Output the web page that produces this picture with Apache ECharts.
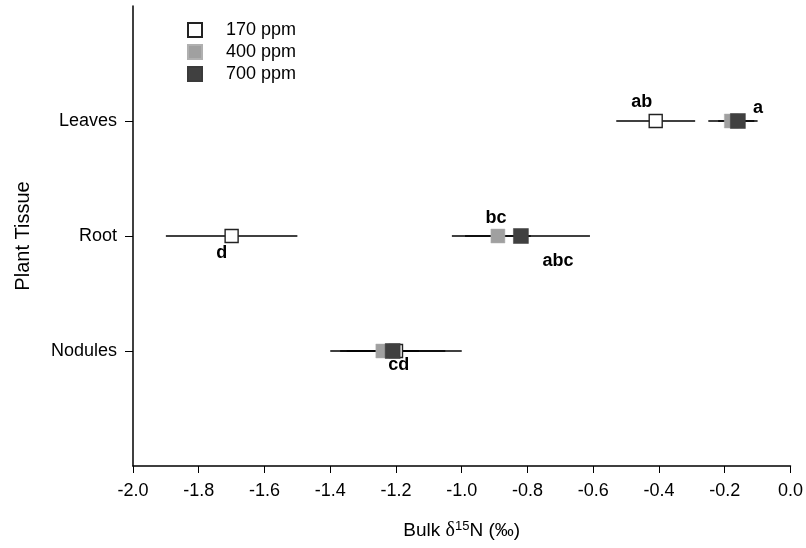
<!DOCTYPE html>
<html lang="en">
<head>
  <meta charset="UTF-8">
  <title>Bulk d15N by plant tissue</title>
  <script src="https://cdn.jsdelivr.net/npm/echarts@6.0.0/dist/echarts.min.js"></script>
  <style>body { margin: 0; background: #fff; }</style>
</head>
<body>
  <div id="main" style="width: 806px;height:548px;"></div>
  <script type="text/javascript">
    // tissues sit at y = 1, 2, 3 on a 0..4 value axis
    const tissues = ['Nodules', 'Root', 'Leaves'];
    const tissuePos = [1, 2, 3];

    // means and +/- errors per CO2 level (order: Nodules, Root, Leaves)
    const mean170 = [-1.20, -1.70, -0.41];
    const err170 = [0.20, 0.20, 0.12];
    const mean400 = [-1.24, -0.89, -0.18];
    const err400 = [0.11, 0.10, 0.07];
    const mean700 = [-1.21, -0.82, -0.16];
    const err700 = [0.16, 0.21, 0.06];

    // significance letters
    const letters170 = ['', 'd', 'ab'];
    const letters400 = ['', 'bc', ''];
    const letters700 = ['cd', 'abc', 'a'];

    const xTicks = ['-2.0', '-1.8', '-1.6', '-1.4', '-1.2', '-1.0', '-0.8', '-0.6', '-0.4', '-0.2', '0.0'];

    // label offsets (px) relative to point centre
    const offsets170 = [[0, 0], [-10, 17], [-14, -19]];
    const offsets400 = [[0, 0], [-2, -18], [0, 0]];
    const offsets700 = [[6, 14], [37, 25], [20, -13]];

    const font = 'Liberation Sans, Arial';

    let myChart = echarts.init(document.getElementById('main'));

    function points(means, letters, offs) {
      return means.map((m, i) => ({
        value: [m, tissuePos[i]],
        label: {
          show: letters[i] !== '',
          position: 'inside',
          offset: offs[i],
          formatter: letters[i],
          color: '#000',
          fontWeight: 'bold',
          fontSize: 18,
          fontFamily: font
        }
      }));
    }

    // error bar data: [low, high, y]
    const errData = [];
    [[mean170, err170], [mean400, err400], [mean700, err700]].forEach(([m, e]) => {
      m.forEach((v, i) => errData.push([v - e[i], v + e[i], tissuePos[i]]));
    });

    const options = {
      animation: false,
      textStyle: { fontFamily: font },
      grid: { left: 133, right: 13, top: 6, bottom: 82 },
      legend: {
        orient: 'vertical',
        left: 182,
        top: 16,
        itemWidth: 14,
        itemHeight: 14,
        itemGap: 4,
        textStyle: { fontSize: 18, lineHeight: 18, color: '#000', fontFamily: font, padding: [0, 0, 0, 19] },
        data: [
          { name: '170 ppm', icon: 'rect' },
          { name: '400 ppm', icon: 'rect' },
          { name: '700 ppm', icon: 'rect' }
        ]
      },
      xAxis: {
        type: 'value',
        min: -2,
        max: 0,
        interval: 0.2,
        name: '{a|Bulk }{d|δ}{s|15}{a|N (‰)}',
        nameLocation: 'middle',
        nameGap: 54,
        nameTextStyle: {
          rich: {
            a: { fontSize: 19, color: '#000', fontFamily: font },
            d: { fontSize: 20, color: '#000', fontFamily: 'Liberation Serif, serif' },
            s: { fontSize: 13, color: '#000', fontFamily: font, verticalAlign: 'top', padding: [0, 0, 9, 0] }
          }
        },
        splitLine: { show: false },
        axisLine: { lineStyle: { color: '#000', width: 1.5 } },
        axisTick: { length: 7, lineStyle: { color: '#000' } },
        axisLabel: {
          color: '#000',
          fontSize: 18,
          margin: 16,
          formatter: (v) => xTicks[Math.round((v + 2) / 0.2)]
        }
      },
      yAxis: {
        type: 'value',
        min: 0,
        max: 4,
        name: 'Plant Tissue',
        nameLocation: 'middle',
        nameGap: 100,
        nameTextStyle: { fontSize: 20, color: '#000', fontFamily: font },
        splitLine: { show: false },
        axisLine: { show: true, onZero: false, lineStyle: { color: '#000', width: 1.5 } },
        axisTick: { show: true, length: 8, customValues: tissuePos, lineStyle: { color: '#000' } },
        axisLabel: {
          color: '#000',
          fontSize: 18,
          margin: 16,
          customValues: tissuePos,
          formatter: (v) => tissues[tissuePos.indexOf(v)] || ''
        }
      },
      series: [
        {
          type: 'custom',
          name: 'err',
          z: 1,
          silent: true,
          data: errData,
          renderItem: (params, api) => {
            const p1 = api.coord([api.value(0), api.value(2)]);
            const p2 = api.coord([api.value(1), api.value(2)]);
            return {
              type: 'line',
              shape: { x1: p1[0], y1: p1[1], x2: p2[0], y2: p2[1] },
              style: { stroke: '#000', lineWidth: 1.5 }
            };
          }
        },
        {
          name: '170 ppm',
          type: 'scatter',
          symbol: 'rect',
          symbolSize: 13,
          z: 2,
          itemStyle: { color: '#fff', borderColor: '#222', borderWidth: 1.4, opacity: 1 },
          data: points(mean170, letters170, offsets170)
        },
        {
          name: '400 ppm',
          type: 'scatter',
          symbol: 'rect',
          symbolSize: 14,
          z: 3,
          itemStyle: { color: '#a0a0a0', borderColor: '#b0b0b0', borderWidth: 0.5, opacity: 1 },
          data: points(mean400, letters400, offsets400)
        },
        {
          name: '700 ppm',
          type: 'scatter',
          symbol: 'rect',
          symbolSize: 15,
          z: 4,
          itemStyle: { color: '#404040', borderColor: '#3a3a3a', borderWidth: 0.5, opacity: 1 },
          data: points(mean700, letters700, offsets700)
        }
      ]
    };

    myChart.setOption(options);
  </script>
</body>
</html>
